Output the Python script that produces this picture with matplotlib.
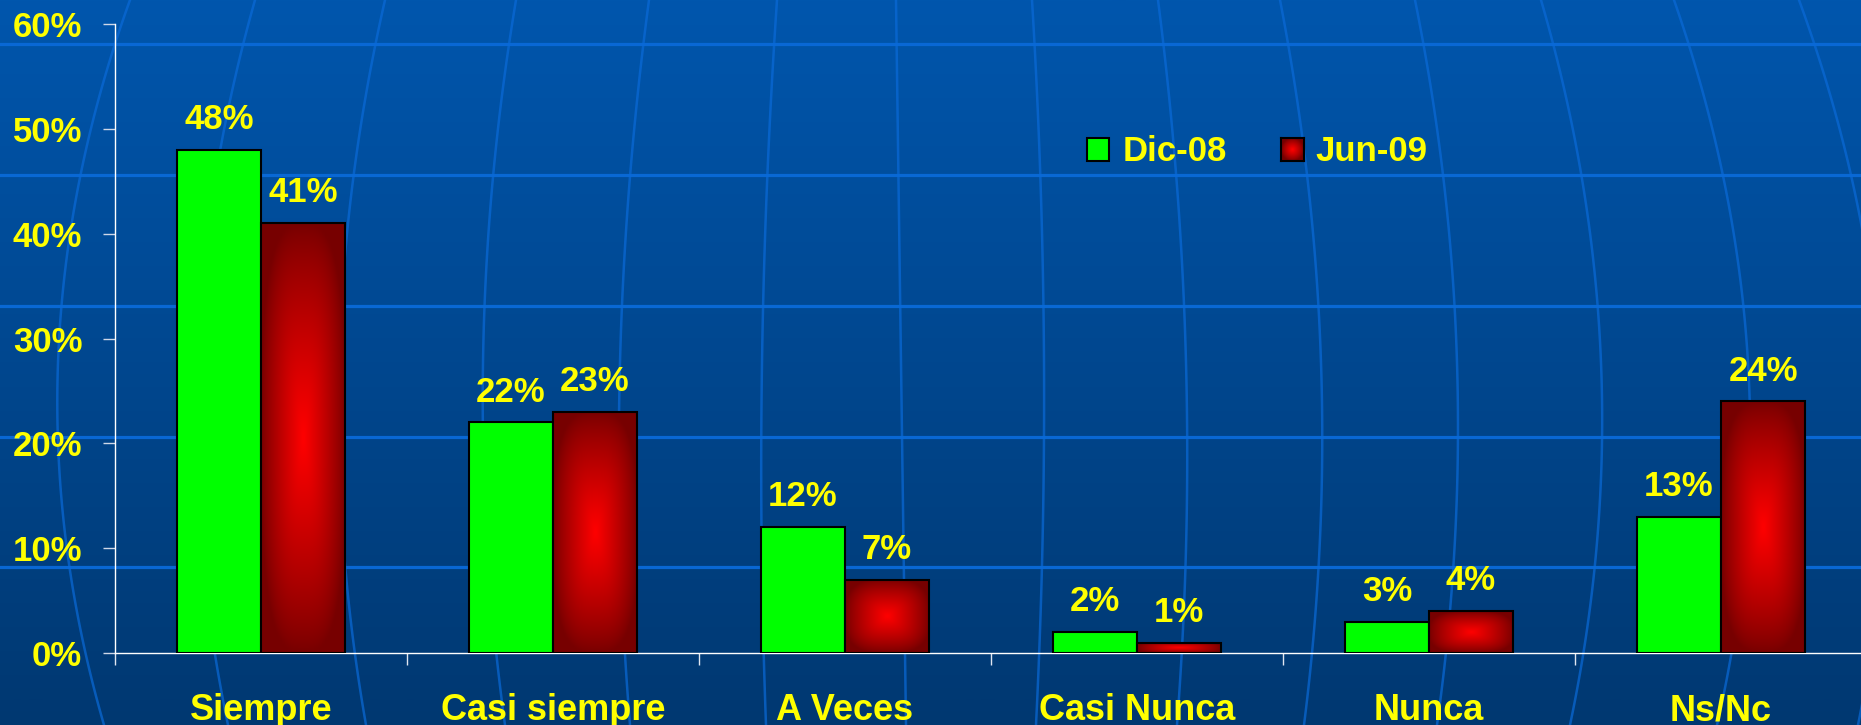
import numpy as np
import matplotlib
matplotlib.use('Agg')
import matplotlib.pyplot as plt
from matplotlib.patches import Rectangle

categories = ['Siempre', 'Casi siempre', 'A Veces', 'Casi Nunca', 'Nunca', 'Ns/Nc']
series = ['Dic-08', 'Jun-09']
dic08 = [48, 22, 12, 2, 3, 13]
jun09 = [41, 23, 7, 1, 4, 24]
yticks = [0, 10, 20, 30, 40, 50, 60]

W, H = 1861, 725
YELLOW = '#FFFF00'
plt.rcParams['font.family'] = ['Liberation Sans', 'DejaVu Sans']
plt.rcParams['font.weight'] = 'bold'


def red_gradient(ny=120, nx=60, p=3.0):
    dy, dx = np.mgrid[-1:1:ny*1j, -1:1:nx*1j]
    t = (np.abs(dx)**p + np.abs(dy)**p)**(1.0/p)
    f = np.clip(1 - t, 0, 1)**0.85
    dark = np.array([0.47, 0.0, 0.0])
    bright = np.array([1.0, 0.0, 0.0])
    return dark + (bright - dark)*f[..., None]


fig = plt.figure(figsize=(W/100, H/100), dpi=100)

# background: blue gradient with globe grid
bg = fig.add_axes([0, 0, 1, 1])
bg.set_xlim(0, W)
bg.set_ylim(H, 0)
bg.axis('off')
top_c = np.array([0, 86, 173])/255
bot_c = np.array([0, 56, 113])/255
s = np.linspace(0, 1, 256)[:, None, None]
bg.imshow(top_c + (bot_c - top_c)*s, extent=[0, W, H, 0], aspect='auto')
mer_top = [130, 255, 385, 516, 649, 777, 896, 1032, 1158, 1280, 1415, 1541, 1674, 1799]
mer_mid = [58, 197, 339, 483, 620, 762, 901, 1044, 1186, 1321, 1457, 1601, 1748, 1880]
mer_bot = [104, 228, 366, 505, 630, 766, 906, 1036, 1177, 1304, 1437, 1570, 1717, 1858]
yy = np.linspace(0, H, 100)
for a, b, c in zip(mer_top, mer_mid, mer_bot):
    coef = np.polyfit([0, H/2, H], [a, b, c], 2)
    bg.plot(np.polyval(coef, yy), yy, color='#0a6ad8', alpha=0.7, lw=1.8)
for yh in [44, 175, 306, 437, 567]:
    bg.axhline(yh, color='#0a6ad8', alpha=0.95, lw=2.3)

# main chart
ax = fig.add_axes([115/W, 72/H, 1752/W, 629/H])
ax.patch.set_alpha(0)
x = np.arange(len(categories))
w = 0.288
grad = red_gradient()

ax.bar(x - w/2, dic08, w, color='#00FF00', edgecolor='black', linewidth=1.5, zorder=3)
bars_r = ax.bar(x + w/2, jun09, w, facecolor='none', edgecolor='black', linewidth=1.5, zorder=4)
for r in bars_r:
    im = ax.imshow(grad, extent=[r.get_x(), r.get_x() + r.get_width(), 0, r.get_height()],
                   aspect='auto', zorder=3, interpolation='bilinear')
    im.set_clip_path(r)

for xs, vals in [(x - w/2, dic08), (x + w/2, jun09)]:
    for xi, v in zip(xs, vals):
        ax.annotate('{}%'.format(v), (xi, v), xytext=(0, 15), textcoords='offset points',
                    ha='center', va='baseline', color=YELLOW, fontsize=25, fontweight='bold')

ax.set_xlim(-0.5, len(categories) - 0.5)
ax.set_ylim(0, 60)
for sp in ['top', 'right']:
    ax.spines[sp].set_visible(False)
for sp in ['left', 'bottom']:
    ax.spines[sp].set_color('white')
    ax.spines[sp].set_linewidth(1)

ax.set_yticks(yticks)
ax.set_yticklabels(['{}%'.format(v) for v in yticks])
ax.tick_params(axis='y', direction='out', length=8.6, width=1, color='#cfd8e8',
               pad=15, labelsize=25, labelcolor=YELLOW)
ax.set_xticks(x)
ax.set_xticklabels(categories)
ax.set_xticks(np.arange(-0.5, len(categories), 1), minor=True)
ax.tick_params(axis='x', which='major', length=0, pad=29, labelsize=26, labelcolor=YELLOW)
ax.tick_params(axis='x', which='minor', direction='out', length=8.6, width=1, color='#e0e6f0')

# legend
fig.add_artist(Rectangle((1087/W, 1 - 161/H), 22/W, 23/H, transform=fig.transFigure,
                         facecolor='#00FF00', edgecolor='black', lw=1.5))
lax = fig.add_axes([1281/W, 1 - 161/H, 23/W, 23/H])
lax.imshow(red_gradient(40, 40, 2.0), aspect='auto', interpolation='bilinear')
lax.set_xticks([])
lax.set_yticks([])
for sp in lax.spines.values():
    sp.set_linewidth(1.5)
fig.text(1123/W, 1 - 161/H, series[0], ha='left', va='baseline', color=YELLOW,
         fontsize=25, fontweight='bold')
fig.text(1315/W, 1 - 161/H, series[1], ha='left', va='baseline', color=YELLOW,
         fontsize=25, fontweight='bold')

fig.savefig('out.png', dpi=100)
